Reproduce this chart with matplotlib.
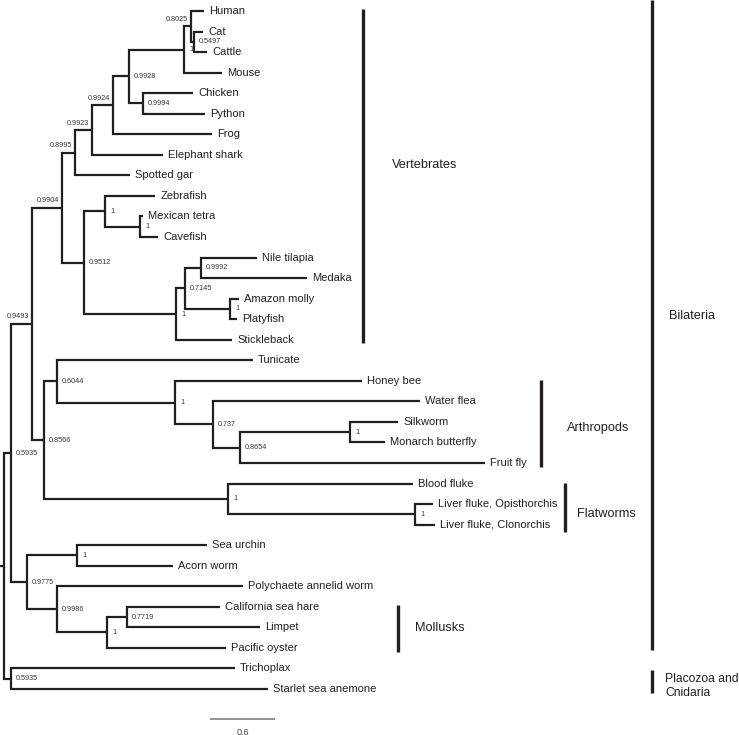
import matplotlib
matplotlib.use("Agg")
import matplotlib.pyplot as plt

# ---------------- data: tree table ----------------
node_ids = ["root", "n_bil", "n_b", "n_vert", "n_d", "n_e", "n_f", "n_amn", "n_mam", "n_hcc",
            "Human", "n_cc", "Cat", "Cattle", "Mouse", "n_cp", "Chicken", "Python", "Frog",
            "Elephant shark", "Spotted gar", "n_tel", "n_o", "Zebrafish", "n_tc", "Mexican tetra",
            "Cavefish", "n_q", "n_r", "n_s", "Nile tilapia", "Medaka", "n_ap", "Amazon molly",
            "Platyfish", "Stickleback", "n_g", "n_h", "Tunicate", "n_arth", "Honey bee", "n_j",
            "Water flea", "n_k", "n_sm", "Silkworm", "Monarch butterfly", "Fruit fly", "n_flat",
            "Blood fluke", "n_lf", "Liver fluke, Opisthorchis", "Liver fluke, Clonorchis",
            "n_t", "n_u", "Sea urchin", "Acorn worm", "n_v", "Polychaete annelid worm", "n_w",
            "n_x", "California sea hare", "Limpet", "Pacific oyster", "n_pc", "Trichoplax",
            "Starlet sea anemone"]
node_parents = [None, "root", "n_bil", "n_b", "n_vert", "n_d", "n_e", "n_f", "n_amn", "n_mam",
                "n_hcc", "n_hcc", "n_cc", "n_cc", "n_mam", "n_amn", "n_cp", "n_cp", "n_f",
                "n_e", "n_d", "n_vert", "n_tel", "n_o", "n_o", "n_tc",
                "n_tc", "n_tel", "n_q", "n_r", "n_s", "n_s", "n_r", "n_ap",
                "n_ap", "n_q", "n_b", "n_g", "n_h", "n_h", "n_arth", "n_arth",
                "n_j", "n_j", "n_k", "n_sm", "n_sm", "n_k", "n_g",
                "n_flat", "n_flat", "n_lf", "n_lf",
                "n_bil", "n_t", "n_u", "n_u", "n_t", "n_v", "n_v",
                "n_w", "n_x", "n_x", "n_w", "root", "n_pc", "n_pc"]
branch_lengths = [0.037, 0.065, 0.194, 0.277, 0.120, 0.157, 0.194, 0.148, 0.508, 0.065,
                  0.120, 0.028, 0.083, 0.120, 0.351, 0.129, 0.462, 0.572, 0.914,
                  0.655, 0.508, 0.203, 0.194, 0.462, 0.323, 0.028,
                  0.166, 0.849, 0.083, 0.148, 0.517, 0.978, 0.415, 0.083,
                  0.065, 0.517, 0.111, 0.120, 1.809, 1.089, 1.726, 0.351,
                  1.911, 0.249, 1.015, 0.443, 0.323, 2.262, 1.698,
                  1.708, 1.726, 0.166, 0.185,
                  0.148, 0.462, 1.200, 0.886, 0.277, 1.717, 0.462,
                  0.185, 0.858, 1.228, 1.098, 0.065, 2.068, 2.372]
support_values = ["", "0.5935", "0.9493", "0.9904", "0.8995", "0.9923", "0.9924", "0.9928", "1", "0.8025",
                  "", "0.5497", "", "", "", "0.9994", "", "", "",
                  "", "", "0.9512", "1", "", "1", "",
                  "", "1", "0.7145", "0.9992", "", "", "1", "",
                  "", "", "0.8566", "0.6044", "", "1", "", "0.737",
                  "", "0.8654", "1", "", "", "", "1",
                  "", "1", "", "",
                  "0.9775", "1", "", "", "0.9986", "", "1",
                  "0.7719", "", "", "", "0.5935", "", ""]

group_names = ["Vertebrates", "Arthropods", "Flatworms", "Mollusks", "Bilateria", "Placozoa and\nCnidaria"]
group_first = ["Human", "Honey bee", "Blood fluke", "California sea hare", "Human", "Trichoplax"]
group_last = ["Stickleback", "Fruit fly", "Liver fluke, Clonorchis", "Pacific oyster", "Pacific oyster",
              "Starlet sea anemone"]
scale_length = 0.6

# ---------------- layout ----------------
W, H, DPI = 739, 735, 100
PX_PER_UNIT = 65 / 0.6
ROOT_PX = 4
LEAF0_PX, LEAF_STEP = 11, 20.545

def px2x(p):
    return (p - ROOT_PX) / PX_PER_UNIT

def px2y(q):
    return (q - LEAF0_PX) / LEAF_STEP

children = {n: [] for n in node_ids}
parent_of, blen, supp = {}, {}, {}
for n, p, b, s in zip(node_ids, node_parents, branch_lengths, support_values):
    parent_of[n] = p
    blen[n] = b
    supp[n] = s
    if p is not None:
        children[p].append(n)

X, Y = {}, {}
leaf_order = []

def place(n, x):
    X[n] = x
    if not children[n]:
        Y[n] = len(leaf_order)
        leaf_order.append(n)
        return
    for c in children[n]:
        place(c, x + blen[c])
    ys = [Y[c] for c in children[n]]
    Y[n] = (min(ys) + max(ys)) / 2

place("root", 0.0)

fig = plt.figure(figsize=(W / DPI, H / DPI), dpi=DPI)
ax = fig.add_axes([0, 0, 1, 1])
ax.set_xlim(px2x(0), px2x(W))
ax.set_ylim(px2y(H), px2y(0))
ax.axis("off")

INK = "#231f20"
LW = 1.6
FONT = "Liberation Sans"

# root stub
ax.plot([-blen["root"], 0], [Y["root"], Y["root"]], color=INK, lw=LW, solid_capstyle="butt")

for n in node_ids:
    p = parent_of[n]
    if p is None:
        continue
    ax.plot([X[p], X[p], X[n]], [Y[p], Y[n], Y[n]], color=INK, lw=LW,
            solid_capstyle="butt", solid_joinstyle="miter")

above_nodes = {"n_b", "n_vert", "n_d", "n_e", "n_f", "n_hcc"}
for n in node_ids:
    if children[n]:
        s = supp[n]
        if not s:
            continue
        if n in above_nodes:
            ax.annotate(s, (X[n], Y[n]), xytext=(-3, 7), textcoords="offset pixels",
                        ha="right", va="center", fontsize=5.2, color="#333333", family=FONT)
        else:
            ax.annotate(s, (X[n], Y[n]), xytext=(5, 0), textcoords="offset pixels",
                        ha="left", va="center", fontsize=5.2, color="#333333", family=FONT)
    else:
        ax.annotate(n, (X[n], Y[n]), xytext=(5, 0), textcoords="offset pixels",
                    ha="left", va="center", fontsize=8, color=INK, family=FONT)

# group bars
bar_x_px = {"Vertebrates": 363, "Arthropods": 541, "Flatworms": 565, "Mollusks": 398,
            "Bilateria": 652, "Placozoa and\nCnidaria": 652}
bar_pad = {"Vertebrates": (-0.1, 0.15), "Arthropods": (-0.05, 0.2), "Flatworms": (-0.05, 0.35),
           "Mollusks": (-0.1, 0.2), "Bilateria": (-0.55, 0.1), "Placozoa and\nCnidaria": (0.1, 0.2)}
label_px = {"Vertebrates": (392, 165), "Arthropods": (567, 428), "Flatworms": (577, 514),
            "Mollusks": (415, 628), "Bilateria": (669, 316), "Placozoa and\nCnidaria": (665, 686)}
label_size = {"Placozoa and\nCnidaria": 8.7}
for g, a, b in zip(group_names, group_first, group_last):
    bx = px2x(bar_x_px[g])
    y0 = Y[a] + bar_pad[g][0]
    y1 = Y[b] + bar_pad[g][1]
    ax.plot([bx, bx], [y0, y1], color=INK, lw=2.4, solid_capstyle="butt")
    lx, ly = label_px[g]
    ax.text(px2x(lx), px2y(ly), g, ha="left", va="center", fontsize=label_size.get(g, 9.2),
            color=INK, family=FONT, linespacing=1.25)

# scale bar
sx0 = px2x(210)
sy = px2y(719)
ax.plot([sx0, sx0 + scale_length], [sy, sy], color="#8a8a8a", lw=1.3, solid_capstyle="butt")
ax.text(sx0 + scale_length / 2, px2y(732), f"{scale_length:g}", ha="center", va="center",
        fontsize=6.5, color="#444444", family=FONT)

fig.savefig("out.png", dpi=DPI)
